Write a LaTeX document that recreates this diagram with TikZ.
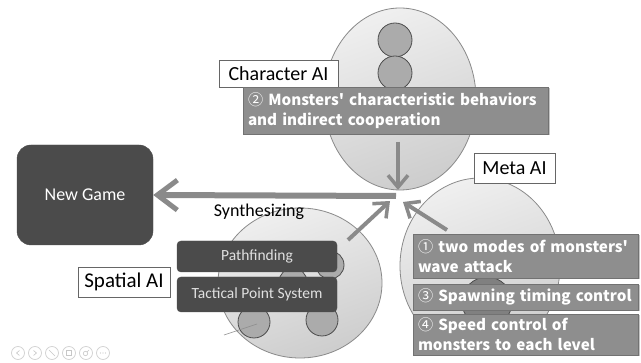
\documentclass[tikz,border=0pt]{standalone}
\usepackage{fontspec}
\setmainfont{Carlito}
\newfontfamily\boxfont{Noto Sans CJK JP}
\newcommand\circd[1]{{\mdseries #1}}
\usetikzlibrary{arrows.meta,shadows,shapes.geometric}
\definecolor{ellfillA}{HTML}{EFEFEF}
\definecolor{ellfillB}{HTML}{CDCDCD}
\definecolor{ellline}{HTML}{8A8A8A}
\definecolor{graybox}{HTML}{8E8E8E}
\definecolor{darkbox}{HTML}{4B4B4B}
\definecolor{arrowgray}{HTML}{8A8A8A}
\definecolor{smallfill}{HTML}{ABABAB}
\begin{document}
\begin{tikzpicture}[x=1pt,y=-1pt,
  aiell/.style={ellipse,draw=ellline,line width=0.8pt,top color=ellfillA,bottom color=ellfillB,shading angle=20},
  smallc/.style={circle,draw=black!70,line width=0.8pt,fill=smallfill,inner sep=0pt},
  labelbox/.style={rectangle,draw=black!60,fill=white,line width=0.8pt,font=\fontsize{20}{24}\selectfont,inner sep=0pt},
  graybx/.style={rectangle,fill=graybox,draw=graybox!80!black,line width=0.5pt,text=white,font=\boxfont\bfseries\fontsize{15.2}{20}\selectfont,align=left,inner xsep=5pt,inner ysep=0pt,drop shadow={shadow xshift=1.5pt,shadow yshift=-1.5pt,fill=black!45}},
  darkbx/.style={rectangle,rounded corners=4pt,fill=darkbox,draw=black!70,text=white!88!black,font=\fontsize{15.5}{18}\selectfont,inner sep=0pt},
  bigarrow/.style={draw=arrowgray,line width=6pt,-{Straight Barb[length=20pt,width=30pt,line width=5pt]}},
  midarrow/.style={draw=arrowgray,line width=4pt,-{Straight Barb[length=12pt,width=20pt,line width=3.5pt]}},
  tool/.style={circle,draw=black!18,line width=0.7pt,minimum size=13pt,inner sep=0pt},
  toolmark/.style={draw=black!22,line width=0.6pt}
]
\useasboundingbox (0,0) rectangle (641,363);
\fill[white] (0,0) rectangle (641,363);

% Ellipses
\node[aiell,minimum width=152pt,minimum height=182pt] (charE) at (400,99) {};
\node[smallc,minimum size=34pt] (c1) at (395,40) {};
\node[smallc,minimum size=34pt] (c2) at (395,73) {};

\node[aiell,minimum width=160pt,minimum height=176pt] (metaE) at (480,266) {};
\node[smallc,minimum size=50pt,fill=black!50] (m2) at (487,302) {};

\node[aiell,minimum width=164pt,minimum height=150pt] (spatE) at (300,283) {};
\node[smallc,minimum size=28pt] (s1) at (330,265) {};
\node[smallc,minimum size=28pt] (s2) at (293,282) {};
\node[smallc,minimum size=32pt] (s3) at (254,322) {};
\node[smallc,minimum size=32pt] (s4) at (322,320) {};
\coordinate (la) at (224,335);
\coordinate (lb) at (257,324);
\draw[black!45,line width=0.6pt] (la) -- (lb);

% Labels
\node[labelbox,minimum width=119pt,minimum height=27pt] (charL) at (278.5,73.5) {Character AI};
\node[labelbox,minimum width=81pt,minimum height=30pt] (metaL) at (514.5,168) {Meta AI};
\node[labelbox,minimum width=92pt,minimum height=30pt] (spatL) at (124,282) {\fontsize{21}{24}\selectfont Spatial AI};

% Gray boxes
\node[graybx,minimum width=305pt,minimum height=47pt,text width=295pt] (b2) at (395.5,110.5)
  {\circd{②} Monsters' characteristic behaviors\\and indirect cooperation};
\node[graybx,minimum width=225pt,minimum height=44pt,text width=215pt] (b1) at (525.5,256)
  {\circd{①} two modes of monsters'\\wave attack};
\node[graybx,minimum width=225pt,minimum height=26pt,text width=215pt] (b3) at (525.5,297)
  {\circd{③} Spawning timing control};
\node[graybx,minimum width=225pt,minimum height=41pt,text width=215pt] (b4) at (525.5,334.5)
  {\circd{④} Speed control of\\monsters to each level};

% Dark boxes
\node[darkbx,minimum width=160pt,minimum height=31pt] (path) at (257,256.5) {Pathfinding};
\node[darkbx,minimum width=160pt,minimum height=35pt] (tps) at (257,294.5) {Tactical Point System};
\node[rectangle,rounded corners=14pt,fill=darkbox,draw=black!70,text=white,font=\fontsize{18}{22}\selectfont,minimum width=136pt,minimum height=100pt] (newg) at (85,195) {New Game};

% Arrows
\coordinate (hub) at (396,196);
\coordinate (charS) at (398,142);
\coordinate (charT) at (398,190);
\coordinate (spS) at (348,240);
\coordinate (spT) at (390,201);
\coordinate (meS) at (447,230);
\coordinate (meT) at (403,202);
\draw[bigarrow] (hub) -- (newg.east);
\draw[midarrow] (charS) -- (charT);
\draw[midarrow] (spS) -- (spT);
\draw[midarrow] (meS) -- (meT);
\node[font=\fontsize{18}{22}\selectfont] (synth) at (259,212) {Synthesizing};

% toolbar
\foreach \i/\xx in {1/18,2/35,3/52,4/69,5/86,6/103} {
  \node[tool] (t\i) at (\xx,353) {};
}
\draw[toolmark] ([xshift=1.5pt,yshift=-2.5pt]t1.center) -- ([xshift=-1.5pt]t1.center) -- ([xshift=1.5pt,yshift=2.5pt]t1.center);
\draw[toolmark] ([xshift=-1.5pt,yshift=-2.5pt]t2.center) -- ([xshift=1.5pt]t2.center) -- ([xshift=-1.5pt,yshift=2.5pt]t2.center);
\draw[toolmark] ([xshift=-3pt,yshift=3pt]t3.center) -- ([xshift=3pt,yshift=-3pt]t3.center);
\draw[toolmark] ([xshift=-2.5pt,yshift=-2pt]t4.center) rectangle ([xshift=2.5pt,yshift=2.5pt]t4.center);
\draw[toolmark] ([xshift=-0.5pt,yshift=-0.5pt]t5.center) circle (2.2pt);
\draw[toolmark] ([xshift=1.2pt,yshift=1.2pt]t5.center) -- ([xshift=3pt,yshift=3pt]t5.center);
\fill[black!22] ([xshift=-2.5pt]t6.center) circle (0.6pt) (t6.center) circle (0.6pt) ([xshift=2.5pt]t6.center) circle (0.6pt);
\end{tikzpicture}
\end{document}
